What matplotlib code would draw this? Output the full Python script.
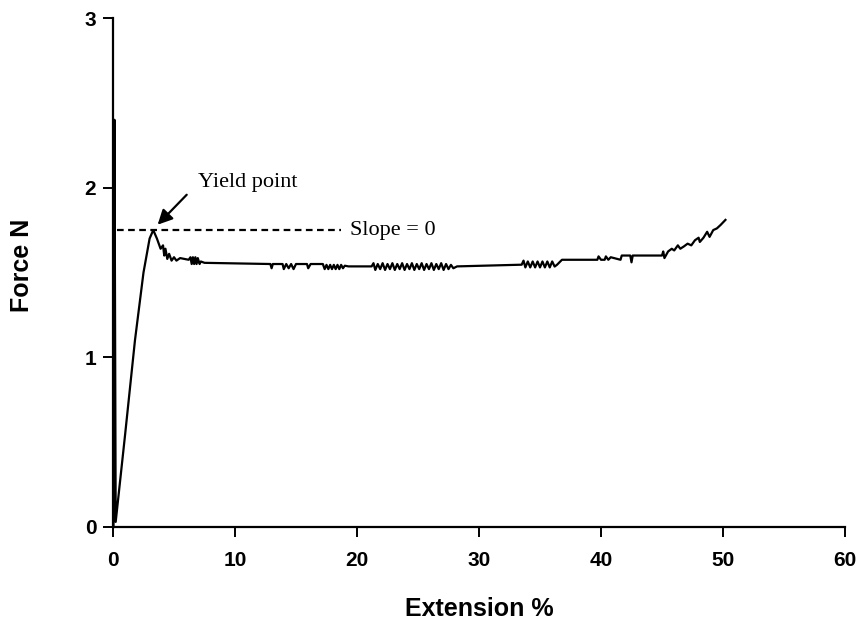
"""Force vs extension curve with yield point annotation."""

import matplotlib
matplotlib.use("Agg")
import matplotlib.pyplot as plt

# extension (%) and force (N)
ext = [
    0.04, 0.1, 0.12, 0.22,
    1.0, 1.8, 2.5, 3.0, 3.3,
    3.6, 3.9, 4.1, 4.2, 4.3, 4.45, 4.6, 4.8, 5.0, 5.2, 5.5, 6.2,
    6.35, 6.45, 6.55, 6.65, 6.75, 6.85, 6.95, 7.1, 7.2, 7.5,
    12.9, 13.0, 13.1, 13.3, 13.9, 14.0, 14.2, 14.4, 14.6, 14.8, 15.0, 15.3,
    15.9, 16.0, 16.2, 17.2, 17.35, 17.5, 17.65, 17.8, 17.95, 18.1, 18.25,
    18.4, 18.55, 18.7, 18.85, 19.0, 19.3,
    21.2, 21.35, 21.5, 21.7, 21.9, 22.1, 22.3, 22.5, 22.7, 22.9, 23.1,
    23.3, 23.5, 23.7, 23.9, 24.1, 24.3, 24.5, 24.7, 24.9, 25.1, 25.3,
    25.5, 25.7, 25.9, 26.1, 26.3, 26.5, 26.7, 26.9, 27.1, 27.3, 27.5,
    27.7, 27.9, 28.2,
    33.5, 33.65, 33.8, 34.0, 34.2, 34.4, 34.6, 34.8, 35.0, 35.2, 35.4,
    35.6, 35.8, 36.0, 36.2, 36.4, 36.8, 37.2, 39.7, 39.8, 40.0, 40.3,
    40.4, 40.6, 40.8, 41.6, 41.7, 42.4, 42.5, 42.6, 45.0, 45.1, 45.2,
    45.5, 45.8, 46.0, 46.3, 46.5, 46.8, 47.1, 47.4, 47.7, 48.0, 48.1,
    48.4, 48.7, 48.9, 49.2, 49.5, 49.8, 50.2,
]
force = [
    0.0, 1.6, 2.4, 0.03,
    0.55, 1.1, 1.5, 1.7, 1.75,
    1.70, 1.64, 1.66, 1.60, 1.64, 1.58, 1.61, 1.57, 1.59, 1.57, 1.585, 1.575,
    1.59, 1.55, 1.59, 1.55, 1.59, 1.55, 1.585, 1.55, 1.565, 1.557,
    1.55, 1.525, 1.55, 1.55, 1.55, 1.52, 1.55, 1.525, 1.55, 1.52, 1.55, 1.55,
    1.55, 1.525, 1.55, 1.55, 1.52, 1.545, 1.52, 1.545, 1.52, 1.545, 1.52,
    1.545, 1.52, 1.545, 1.525, 1.54, 1.536,
    1.536, 1.555, 1.515, 1.55, 1.52, 1.555, 1.515, 1.55, 1.52, 1.555, 1.515,
    1.55, 1.52, 1.555, 1.515, 1.55, 1.52, 1.555, 1.515, 1.55, 1.52, 1.555,
    1.515, 1.55, 1.52, 1.555, 1.515, 1.55, 1.52, 1.555, 1.515, 1.55, 1.52,
    1.545, 1.525, 1.536,
    1.546, 1.57, 1.53, 1.565, 1.53, 1.565, 1.53, 1.565, 1.53, 1.565, 1.53,
    1.565, 1.53, 1.565, 1.535, 1.546, 1.575, 1.575, 1.575, 1.595, 1.575, 1.575,
    1.595, 1.575, 1.59, 1.575, 1.60, 1.60, 1.56, 1.60, 1.60, 1.624, 1.585,
    1.624, 1.64, 1.63, 1.66, 1.64, 1.654, 1.67, 1.66, 1.69, 1.705, 1.68,
    1.705, 1.74, 1.71, 1.75, 1.76, 1.78, 1.81,
]

slope_ext = [0.3, 18.7]
slope_force = [1.75, 1.75]

x_ticks = [0, 10, 20, 30, 40, 50, 60]
y_ticks = [0, 1, 2, 3]

fig = plt.figure(figsize=(8.61, 6.23), dpi=100)
ax = fig.add_axes([113 / 861, 96 / 623, 732 / 861, 509 / 623])

ax.plot(ext, force, color="black", lw=1.6, clip_on=False)
ax.plot(slope_ext, slope_force, color="black", lw=1.6, ls=(0, (3, 2)))

ax.set_xlim(0, 60)
ax.set_ylim(0, 3)
ax.set_xticks(x_ticks)
ax.set_yticks(y_ticks)

for side in ("top", "right"):
    ax.spines[side].set_visible(False)
for side in ("left", "bottom"):
    ax.spines[side].set_linewidth(1.6)

tick_font = dict(family="Liberation Sans", weight="bold", size=15)
ax.set_xticklabels([str(v) for v in x_ticks], **tick_font)
ax.set_yticklabels([str(v) for v in y_ticks], **tick_font)
ax.tick_params(axis="x", direction="out", length=7, width=1.4, pad=10)
ax.tick_params(axis="y", direction="out", length=7, width=1.4, pad=5)

ax.set_xlabel("Extension %", family="Liberation Sans", weight="bold", size=18, labelpad=20)
fig.text(22 / 861, 1 - 265 / 623, "Force N", family="Liberation Sans", weight="bold",
         size=18, rotation=90, ha="center", va="center")

serif = dict(family="Liberation Serif", size=16)
ax.text(6.95, 2.03, "Yield point", ha="left", va="center", **serif)
ax.text(19.4, 1.75, "Slope = 0", ha="left", va="center", **serif)
ax.annotate("", xy=(3.5, 1.77), xytext=(6.2, 1.97),
            arrowprops=dict(arrowstyle="-|>", color="black", lw=1.6, mutation_scale=22))

fig.savefig("out.png", dpi=100, facecolor="white")
